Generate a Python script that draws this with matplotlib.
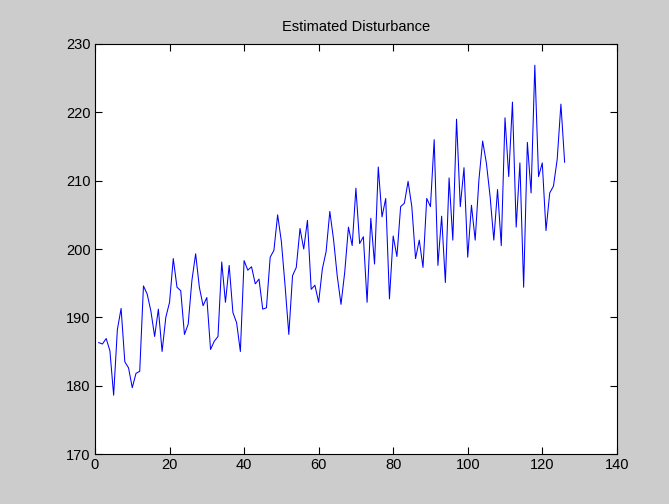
import matplotlib
matplotlib.use("Agg")
import matplotlib.pyplot as plt
import numpy as np

plt.rcParams['font.family'] = ['Liberation Sans', 'DejaVu Sans']

# Estimated disturbance, one sample per step
disturbance = [
    186.3, 186.1, 186.9, 185.1, 178.6, 188.2, 191.3, 183.5, 182.6, 179.7,
    181.8, 182.1, 194.6, 193.4, 190.9, 187.2, 191.2, 185.0, 190.0, 192.2,
    198.6, 194.4, 193.9, 187.5, 189.0, 195.4, 199.3, 194.4, 191.7, 192.9,
    185.3, 186.5, 187.2, 198.1, 192.2, 197.6, 190.7, 189.2, 185.0, 198.3,
    196.9, 197.4, 194.9, 195.6, 191.2, 191.4, 198.8, 199.8, 205.0, 201.1,
    194.6, 187.5, 196.1, 197.3, 203.0, 200.0, 204.2, 194.1, 194.7, 192.2,
    197.1, 199.6, 205.5, 201.4, 196.0, 191.9, 196.6, 203.2, 200.5, 208.9,
    200.8, 201.8, 192.2, 204.5, 197.8, 212.0, 204.7, 207.4, 192.7, 201.9,
    198.9, 206.2, 206.7, 209.9, 206.2, 198.6, 201.3, 197.3, 207.4, 206.2,
    216.0, 197.6, 204.8, 195.1, 210.4, 201.3, 219.0, 206.2, 211.9, 198.8,
    206.4, 201.3, 210.1, 215.8, 212.6, 207.7, 201.3, 208.7, 200.5, 219.2,
    210.6, 221.5, 203.2, 212.6, 194.4, 215.6, 208.2, 226.9, 210.6, 212.6,
    202.7, 208.2, 209.2, 213.1, 221.2, 212.7,
]
samples = np.arange(1, len(disturbance) + 1)

x_ticks = [0, 20, 40, 60, 80, 100, 120, 140]
y_ticks = [170, 180, 190, 200, 210, 220, 230]

fig = plt.figure(figsize=(6.69, 5.04), dpi=100, facecolor='#cccccc')
ax = fig.add_axes([0.142, 0.0992, 0.78, 0.8135])
ax.set_facecolor('white')

ax.plot(samples, disturbance, color='#0000ff', linewidth=0.75)

ax.set_xlim(0, 140)
ax.set_ylim(170, 230)
ax.set_xticks(x_ticks)
ax.set_yticks(y_ticks)
ax.tick_params(direction='in', length=5, width=0.8, labelsize=10.5,
               top=True, right=True, colors='black', pad=3)
for spine in ax.spines.values():
    spine.set_linewidth(0.8)
    spine.set_color('black')

ax.set_title('Estimated Disturbance', fontsize=10.5, pad=9,
             family=['Liberation Sans Narrow', 'Liberation Sans', 'DejaVu Sans'])

fig.savefig('out.png', dpi=100, facecolor=fig.get_facecolor())
